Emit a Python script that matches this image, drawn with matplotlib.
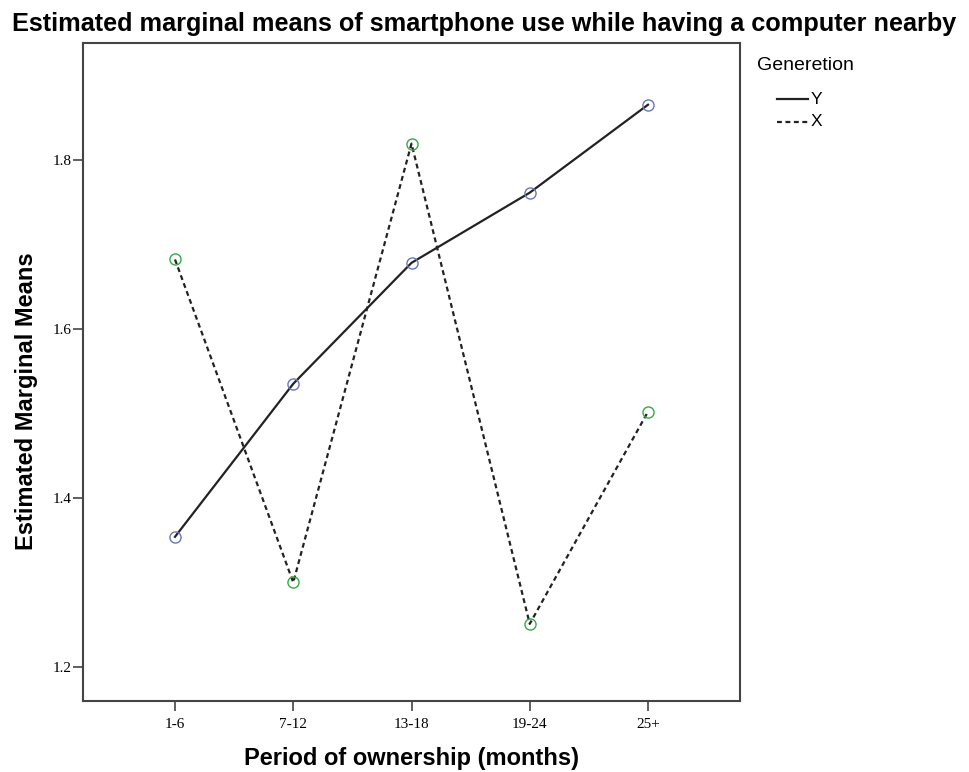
import matplotlib
matplotlib.use("Agg")
import matplotlib.pyplot as plt
from matplotlib.lines import Line2D

categories = ["1-6", "7-12", "13-18", "19-24", "25+"]
gen_y = [1.354, 1.535, 1.678, 1.761, 1.865]
gen_x = [1.682, 1.300, 1.819, 1.251, 1.502]
yticks = [1.2, 1.4, 1.6, 1.8]
legend_title = "Generetion"
series_names = ["Y", "X"]

W, H = 969, 772
fig = plt.figure(figsize=(W / 100, H / 100), dpi=100)
ax = fig.add_axes([83 / W, 1 - 701 / H, 657 / W, 658 / H])

dash = (0, (2.2, 1.6))
xs = list(range(len(categories)))
ax.plot(xs, gen_y, color="#222222", lw=1.6, ls="-", zorder=2)
ax.plot(xs, gen_x, color="#222222", lw=1.6, ls=dash, zorder=2)
ax.plot(xs, gen_y, ls="none", marker="o", ms=8, mfc="none", mec="#6677bb", mew=1.0, zorder=3)
ax.plot(xs, gen_x, ls="none", marker="o", ms=8, mfc="none", mec="#33aa44", mew=1.0, zorder=3)

ax.set_xlim(-0.778, 4.778)
ax.set_ylim(1.1598, 1.938)
ax.set_xticks(xs)
ax.set_xticklabels(categories, family="Liberation Serif", fontsize=11)
ax.set_yticks(yticks)
ax.set_yticklabels([f"{v:.1f}" for v in yticks], family="Liberation Serif", fontsize=11)
ax.tick_params(axis="both", direction="out", length=7.5, width=1.2, color="#444444")
ax.tick_params(axis="x", pad=5)
ax.tick_params(axis="y", pad=1)
for s in ax.spines.values():
    s.set_linewidth(1.5)
    s.set_color("#444444")

ax.set_xlabel("Period of ownership (months)", family="Liberation Sans", fontweight="bold",
              fontsize=17, labelpad=11)
ax.set_ylabel("Estimated Marginal Means", family="Liberation Sans", fontweight="bold",
              fontsize=17, labelpad=10)
ax.yaxis.label.set_y(0.455)

fig.text(0.5, 1 - 24 / H, "Estimated marginal means of smartphone use while having a computer nearby",
         ha="center", va="center", family="Liberation Sans", fontweight="bold", fontsize=18.2)

# legend drawn in figure pixel coordinates
fig.text(757 / W, 1 - 65 / H, legend_title, ha="left", va="center",
         family="Liberation Sans", fontsize=14)
for i, (name, style) in enumerate(zip(series_names, ["-", dash])):
    yy = 1 - (99 + 23 * i) / H
    fig.add_artist(Line2D([777 / W, 808 / W], [yy, yy], color="#222222", lw=1.6, ls=style,
                          transform=fig.transFigure))
    fig.text(811 / W, yy, name, ha="left", va="center", family="Liberation Sans", fontsize=12.5)

fig.savefig("out.png", dpi=100)
